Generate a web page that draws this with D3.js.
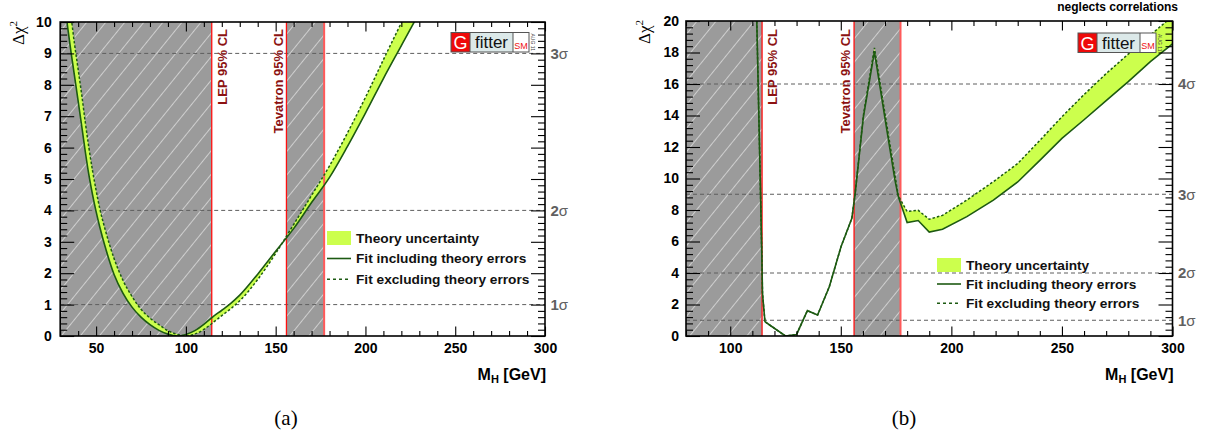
<!DOCTYPE html>
<html><head><meta charset="utf-8">
<script src="https://cdn.jsdelivr.net/npm/d3@7"></script>
<style>body{margin:0;background:#fff}svg{display:block}</style>
</head><body>
<svg id="c" width="1207" height="436"></svg>
<script>
// ---------- data ----------
// panel (a): M_H grid and Δχ² curves
const massA = [32, 34, 36, 38, 40, 42, 44, 46, 48, 50, 52, 55, 60, 65, 70, 75, 80, 85, 90, 95, 100, 105, 110, 115, 120, 125, 130, 140, 150, 160, 170, 180, 190, 200, 210, 220, 230, 240];
const inclA = [10.8, 9.9, 9.05, 8.27, 7.48, 6.68, 5.86, 5.12, 4.5, 3.96, 3.48, 2.85, 1.96, 1.36, 0.92, 0.6, 0.36, 0.18, 0.06, 0.0, 0.05, 0.17, 0.37, 0.61, 0.82, 1.04, 1.3, 1.97, 2.7, 3.42, 4.25, 5.05, 6.04, 7.1, 8.2, 9.25, 10.3, 11.4];
const exclA = [12.1, 11.1, 10.2, 9.29, 8.49, 7.68, 6.8, 5.99, 5.27, 4.64, 4.07, 3.4, 2.47, 1.77, 1.26, 0.85, 0.57, 0.36, 0.17, 0.06, 0.0, 0.06, 0.21, 0.42, 0.65, 0.87, 1.12, 1.8, 2.63, 3.55, 4.48, 5.42, 6.47, 7.6, 8.8, 9.98, 11.2, 12.4];
// panel (b)
const massB = [111.5, 112, 113.7, 114.3, 114.6, 115.7, 117.8, 125, 130, 134.9, 139.5, 144.8, 150.1, 155, 156.5, 160.2, 165.2, 170.8, 174.5, 176, 180, 185, 190, 196, 207, 219, 230, 240, 250, 260, 270, 280, 290, 300];
const inclB = [22, 20.06, 9.06, 5.0, 2.7, 0.91, 0.70, 0.0, 0.1, 1.61, 1.33, 3.13, 5.67, 7.47, 9.06, 13.9, 18.05, 13.1, 9.9, 8.85, 7.2, 7.33, 6.6, 6.78, 7.58, 8.63, 9.78, 11.15, 12.55, 13.73, 14.95, 16.15, 17.42, 18.55];
const exclB = [22, 20.06, 9.06, 5.0, 2.7, 0.91, 0.70, 0.0, 0.1, 1.61, 1.33, 3.13, 5.67, 7.47, 9.06, 14.0, 18.3, 13.4, 10.2, 8.9, 7.9, 7.98, 7.41, 7.66, 8.63, 9.8, 10.95, 12.42, 13.92, 15.33, 16.66, 17.9, 19.11, 20.3];
// axes
const xTicksA = [50, 100, 150, 200, 250, 300];
const yTicksA = [0, 1, 2, 3, 4, 5, 6, 7, 8, 9, 10];
const xTicksB = [100, 150, 200, 250, 300];
const yTicksB = [0, 2, 4, 6, 8, 10, 12, 14, 16, 18, 20];
const sigmaValues = [1, 4, 9, 16];
const sigmaLabels = ["1", "2", "3", "4"];
const lepLimit = 114.4;
const tevLimits = [156, 177];
const exclusionLabels = ["LEP 95% CL", "Tevatron 95% CL"];
const legendLabels = ["Theory uncertainty", "Fit including theory errors", "Fit excluding theory errors"];
const captions = ["(a)", "(b)"];

// ---------- drawing ----------
const svg = d3.select("#c");
const defs = svg.append("defs");
const hatch = defs.append("pattern").attr("id", "hatch").attr("patternUnits", "userSpaceOnUse")
  .attr("width", 14.8).attr("height", 10).attr("patternTransform", "rotate(39)");
hatch.append("line").attr("x1", 7.4).attr("x2", 7.4).attr("y1", -1).attr("y2", 11)
  .attr("stroke", "#cfcfcf").attr("stroke-width", 1);

const BAND = "#ccff4d", LINE = "#1d5a12", FONT = "'Liberation Sans', Arial, sans-serif";

function drawPanel(cfg, idx) {
  const x = d3.scaleLinear().domain(cfg.xDomain).range([cfg.left, cfg.right]);
  const y = d3.scaleLinear().domain(cfg.yDomain).range([cfg.bottom, cfg.top]);
  const g = svg.append("g");
  const cid = "clip" + idx;
  defs.append("clipPath").attr("id", cid).append("rect")
    .attr("x", cfg.left).attr("y", cfg.top).attr("width", cfg.right - cfg.left).attr("height", cfg.bottom - cfg.top);
  const plot = g.append("g").attr("clip-path", `url(#${cid})`);

  // excluded regions
  [[cfg.xDomain[0], lepLimit], tevLimits].forEach(r => {
    plot.append("rect").attr("x", x(r[0])).attr("width", x(r[1]) - x(r[0]))
      .attr("y", cfg.top).attr("height", cfg.bottom - cfg.top).attr("fill", "#9b9b9b");
    plot.append("rect").attr("x", x(r[0])).attr("width", x(r[1]) - x(r[0]))
      .attr("y", cfg.top).attr("height", cfg.bottom - cfg.top).attr("fill", "url(#hatch)");
  });

  // sigma lines
  const sig = sigmaValues.map((v, i) => ({ v, l: sigmaLabels[i] })).filter(d => d.v <= cfg.yDomain[1]);
  plot.selectAll("line.sig").data(sig).join("line").attr("class", "sig")
    .attr("x1", cfg.left).attr("x2", cfg.right).attr("y1", d => y(d.v)).attr("y2", d => y(d.v))
    .attr("stroke", "#5e5e5e").attr("stroke-width", 1).attr("stroke-dasharray", "4,3");

  const pts = cfg.mass.map((m, i) => ({ m, a: cfg.incl[i], b: cfg.excl[i] }));
  const curve = cfg.curve;
  plot.append("path").datum(pts)
    .attr("d", d3.area().curve(curve).x(d => x(d.m)).y0(d => y(d.a)).y1(d => y(d.b)))
    .attr("fill", BAND);

  // red limit lines
  [lepLimit, tevLimits[0], tevLimits[1]].forEach((v, i) => {
    plot.append("line").attr("x1", x(v)).attr("x2", x(v)).attr("y1", cfg.top).attr("y2", cfg.bottom)
      .attr("stroke", i === 2 ? "#ff5a5a" : "#ff1010").attr("stroke-width", i === 2 ? 2 : 1.3);
  });

  plot.append("path").datum(pts)
    .attr("d", d3.line().curve(curve).x(d => x(d.m)).y(d => y(d.b)))
    .attr("fill", "none").attr("stroke", LINE).attr("stroke-width", 1.5).attr("stroke-dasharray", "2.5,2");
  plot.append("path").datum(pts)
    .attr("d", d3.line().curve(curve).x(d => x(d.m)).y(d => y(d.a)))
    .attr("fill", "none").attr("stroke", LINE).attr("stroke-width", 1.6);

  // exclusion labels
  const lx = [x(lepLimit) + cfg.lepOff, x(tevLimits[0]) + cfg.tevOff];
  exclusionLabels.forEach((t, i) => {
    g.append("text").attr("transform", `translate(${lx[i]},29) rotate(-90)`)
      .attr("text-anchor", "end").attr("font-family", FONT).attr("font-weight", "bold")
      .attr("font-size", 13).attr("fill", "#8c1212").text(t);
  });

  // axes ticks
  const style = sel => {
    sel.select(".domain").remove();
    sel.selectAll("line").attr("stroke", "#000").attr("stroke-width", 1.1);
    sel.attr("font-family", FONT).attr("font-size", 14).attr("font-weight", "bold");
    sel.selectAll("text").attr("fill", "#000");
  };
  const xMinor = d3.range(cfg.xDomain[0], cfg.xDomain[1] + 1, 10).filter(v => !cfg.xTicks.includes(v));
  const nY = Math.round((cfg.yDomain[1] - cfg.yDomain[0]) / cfg.yMinor);
  const yMinor = d3.range(0, nY + 1).map(i => cfg.yDomain[0] + i * cfg.yMinor)
    .filter(v => Math.abs(v / cfg.yMajor - Math.round(v / cfg.yMajor)) > 1e-6);

  g.append("g").attr("transform", `translate(0,${cfg.bottom})`)
    .call(d3.axisBottom(x).tickValues(cfg.xTicks).tickSize(-9.5).tickPadding(7).tickFormat(d3.format("d"))).call(style);
  g.append("g").attr("transform", `translate(0,${cfg.bottom})`)
    .call(d3.axisBottom(x).tickValues(xMinor).tickSize(-5).tickFormat("")).call(style);
  g.append("g").attr("transform", `translate(0,${cfg.top})`)
    .call(d3.axisTop(x).tickValues(cfg.xTicks).tickSize(-9.5).tickFormat("")).call(style);
  g.append("g").attr("transform", `translate(0,${cfg.top})`)
    .call(d3.axisTop(x).tickValues(xMinor).tickSize(-5).tickFormat("")).call(style);
  g.append("g").attr("transform", `translate(${cfg.left},0)`)
    .call(d3.axisLeft(y).tickValues(cfg.yTicks).tickSize(-14).tickPadding(cfg.yPad).tickFormat(d3.format("d"))).call(style);
  g.append("g").attr("transform", `translate(${cfg.left},0)`)
    .call(d3.axisLeft(y).tickValues(yMinor).tickSize(-7).tickFormat("")).call(style);
  g.append("g").attr("transform", `translate(${cfg.right},0)`)
    .call(d3.axisRight(y).tickValues(cfg.yTicks).tickSize(-14).tickFormat("")).call(style);
  g.append("g").attr("transform", `translate(${cfg.right},0)`)
    .call(d3.axisRight(y).tickValues(yMinor).tickSize(-7).tickFormat("")).call(style);

  g.append("rect").attr("x", cfg.left).attr("y", cfg.top).attr("width", cfg.right - cfg.left)
    .attr("height", cfg.bottom - cfg.top).attr("fill", "none").attr("stroke", "#000").attr("stroke-width", 1.6);

  // sigma labels
  sig.forEach(d => {
    const t = g.append("text").attr("x", cfg.right + 5.5).attr("y", y(d.v)).attr("dy", "0.36em")
      .attr("font-family", FONT).attr("font-size", 15).attr("fill", "#606060");
    t.append("tspan").attr("font-weight", "bold").text(d.l);
    t.append("tspan").text("σ");
  });

  // axis titles
  const yt = g.append("text").attr("transform", `translate(${cfg.ytX},${cfg.top - 1}) rotate(-90)`)
    .attr("text-anchor", "end").attr("font-family", "'Liberation Serif', 'DejaVu Serif', serif").attr("font-size", 17);
  yt.append("tspan").text("Δχ");
  yt.append("tspan").attr("font-size", 11).attr("dy", -7).text("2");
  const xt = g.append("text").attr("x", cfg.right + 1).attr("y", 380).attr("text-anchor", "end")
    .attr("font-family", FONT).attr("font-weight", "bold").attr("font-size", 16);
  xt.append("tspan").text("M");
  xt.append("tspan").attr("font-size", 11).attr("dy", 3).text("H");
  xt.append("tspan").attr("dy", -3).text(" [GeV]");

  // legend
  const L = cfg.legend;
  g.append("rect").attr("x", L.x).attr("y", L.rows[0] - 7).attr("width", 24).attr("height", 14).attr("fill", BAND);
  g.append("line").attr("x1", L.x).attr("x2", L.x + 24).attr("y1", L.rows[1]).attr("y2", L.rows[1])
    .attr("stroke", LINE).attr("stroke-width", 1.6);
  g.append("line").attr("x1", L.x).attr("x2", L.x + 24).attr("y1", L.rows[2]).attr("y2", L.rows[2])
    .attr("stroke", LINE).attr("stroke-width", 1.5).attr("stroke-dasharray", "3,3");
  legendLabels.forEach((t, i) => {
    g.append("text").attr("x", L.x + 29).attr("y", L.rows[i]).attr("dy", "0.36em")
      .attr("font-family", FONT).attr("font-weight", "bold").attr("font-size", 13.7).attr("fill", "#111").text(t);
  });

  // Gfitter logo
  const lg = g.append("g").attr("transform", `translate(${cfg.logo[0]},${cfg.logo[1]})`);
  const H = 19.5;
  lg.append("rect").attr("x", 0).attr("y", 0).attr("width", 19).attr("height", H).attr("fill", "#ee0a0a");
  lg.append("rect").attr("x", 19).attr("y", 0).attr("width", 43).attr("height", H).attr("fill", "#dce9e9");
  lg.append("rect").attr("x", 62).attr("y", 0).attr("width", 16).attr("height", H).attr("fill", "#fff");
  lg.append("rect").attr("x", 0).attr("y", 0).attr("width", 78).attr("height", H).attr("fill", "none")
    .attr("stroke", "#555").attr("stroke-width", 1);
  lg.append("line").attr("x1", 19).attr("x2", 19).attr("y1", 0).attr("y2", H).attr("stroke", "#555");
  lg.append("line").attr("x1", 62).attr("x2", 62).attr("y1", 0).attr("y2", H).attr("stroke", "#555");
  lg.append("text").attr("x", 9.5).attr("y", 16.5).attr("text-anchor", "middle").attr("font-family", FONT)
    .attr("font-size", 18).attr("fill", "#fff").text("G");
  lg.append("text").attr("x", 40.5).attr("y", 15.5).attr("text-anchor", "middle").attr("font-family", FONT)
    .attr("font-size", 17).attr("fill", "#111").text("fitter");
  lg.append("text").attr("x", 70).attr("y", 16).attr("text-anchor", "middle").attr("font-family", FONT)
    .attr("font-size", 9).attr("fill", "#ee1111").text("SM");
  lg.append("text").attr("transform", `translate(79.5,1) rotate(90)`).attr("font-family", FONT)
    .attr("font-size", 5).attr("fill", "#444").text("AUG 11");

  if (cfg.note) {
    g.append("text").attr("x", cfg.right + 5.5).attr("y", 11).attr("text-anchor", "end")
      .attr("font-family", FONT).attr("font-weight", "bold").attr("font-size", 12).text(cfg.note);
  }
  svg.append("text").attr("x", cfg.capX).attr("y", 425).attr("text-anchor", "middle")
    .attr("font-family", "'Liberation Serif', serif").attr("font-size", 21).text(captions[idx]);
}

drawPanel({
  xDomain: [30, 300], yDomain: [0, 10], left: 60.2, right: 545, top: 22, bottom: 336,
  mass: massA, incl: inclA, excl: exclA, curve: d3.curveMonotoneX,
  xTicks: xTicksA, yTicks: yTicksA, yMinor: 0.2, yMajor: 1, yPad: 8.5,
  lepOff: 15, tevOff: -3, ytX: 24,
  legend: { x: 327, rows: [238, 258.5, 279.3] }, logo: [451, 32.5], capX: 286
}, 0);
drawPanel({
  xDomain: [80, 300], yDomain: [0, 20], left: 686, right: 1172.5, top: 21, bottom: 336,
  mass: massB, incl: inclB, excl: exclB, curve: d3.curveLinear,
  xTicks: xTicksB, yTicks: yTicksB, yMinor: 0.4, yMajor: 2, yPad: 7,
  lepOff: 14.7, tevOff: -4.3, ytX: 650,
  legend: { x: 937, rows: [265, 284, 303.3] }, logo: [1078, 33], capX: 904,
  note: "neglects correlations"
}, 1);
</script>
</body></html>
